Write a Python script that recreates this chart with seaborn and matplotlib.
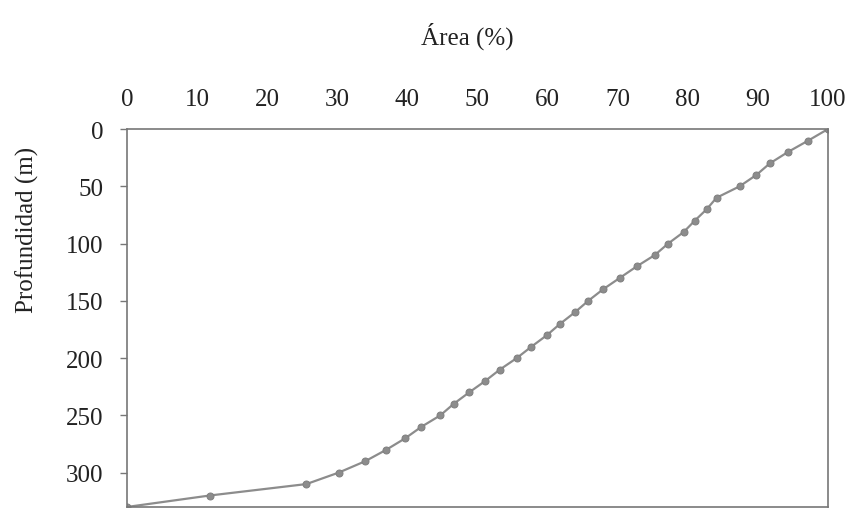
import pandas as pd
import matplotlib.pyplot as plt
import seaborn as sns

# Hypsometric curve values
area_pct = [100, 97.2, 94.3, 91.7, 89.8, 87.4, 84.1, 82.7, 81.0, 79.4,
            77.2, 75.3, 72.7, 70.3, 67.9, 65.8, 63.9, 61.8, 59.9, 57.7,
            55.6, 53.2, 51.1, 48.8, 46.6, 44.7, 42.0, 39.7, 37.0, 34.0,
            30.2, 25.6, 11.8, 0]
depth_m = [0, 10, 20, 30, 40, 50, 60, 70, 80, 90,
           100, 110, 120, 130, 140, 150, 160, 170, 180, 190,
           200, 210, 220, 230, 240, 250, 260, 270, 280, 290,
           300, 310, 320, 330]
x_ticks = list(range(0, 101, 10))
y_ticks = list(range(0, 301, 50))

data = pd.DataFrame({'Area': area_pct, 'Depth': depth_m})

sns.set_style('white')
plt.rcParams['font.family'] = ['Liberation Serif', 'DejaVu Serif']

fig = plt.figure(figsize=(8.5, 5.1), dpi=100)
ax = fig.add_axes([0.1494, 0.004, 0.8247, 0.741])

sns.lineplot(data=data, x='Area', y='Depth', sort=False, ax=ax,
             color='#8c8c8c', linewidth=1.6, marker='o', markersize=5,
             markeredgecolor='#808080', markerfacecolor='#8c8c8c')

ax.set_xlim(0, 100)
ax.set_ylim(330, 0)
ax.set_xticks(x_ticks)
ax.set_yticks(y_ticks)
ax.xaxis.tick_top()
ax.xaxis.set_label_position('top')
ax.tick_params(axis='x', length=0, pad=14, labelsize=18, colors='#222222')
ax.tick_params(axis='y', length=5, width=1, color='#777777', pad=12,
               labelsize=18, left=True, labelcolor='#222222')

ax.set_xlabel('Área (%)', fontsize=18, color='#222222')
ax.xaxis.set_label_coords(0.485, 1.225)
ax.set_ylabel('Profundidad (m)', fontsize=18, color='#222222')
ax.yaxis.set_label_coords(-0.125, 0.735)

for s in ax.spines.values():
    s.set_color('#777777')
    s.set_linewidth(1.2)

fig.savefig('out.png', dpi=100)
